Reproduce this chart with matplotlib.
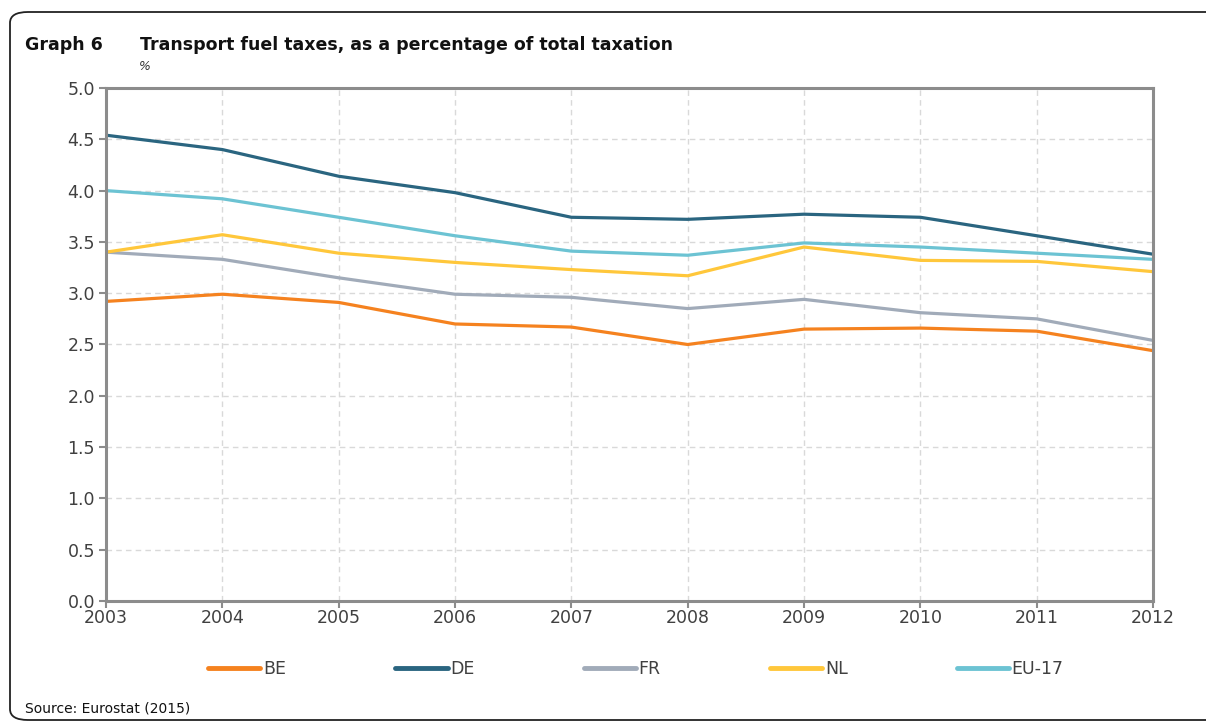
import matplotlib
matplotlib.use("Agg")
import matplotlib.pyplot as plt
from matplotlib.patches import FancyBboxPatch

years = [2003, 2004, 2005, 2006, 2007, 2008, 2009, 2010, 2011, 2012]
BE = [2.92, 2.99, 2.91, 2.70, 2.67, 2.50, 2.65, 2.66, 2.63, 2.44]
DE = [4.54, 4.40, 4.14, 3.98, 3.74, 3.72, 3.77, 3.74, 3.56, 3.38]
FR = [3.40, 3.33, 3.15, 2.99, 2.96, 2.85, 2.94, 2.81, 2.75, 2.54]
NL = [3.40, 3.57, 3.39, 3.30, 3.23, 3.17, 3.45, 3.32, 3.31, 3.21]
EU17 = [4.00, 3.92, 3.74, 3.56, 3.41, 3.37, 3.49, 3.45, 3.39, 3.33]
series_names = ["BE", "DE", "FR", "NL", "EU-17"]
series_values = [BE, DE, FR, NL, EU17]
colors = ["#F5821F", "#2A6580", "#A1ABB9", "#FFC73B", "#6CC3D3"]
yticks = [0.0, 0.5, 1.0, 1.5, 2.0, 2.5, 3.0, 3.5, 4.0, 4.5, 5.0]

plt.rcParams['font.family'] = ['DejaVu Sans']
W, H = 1206, 724
fig = plt.figure(figsize=(W / 100, H / 100), dpi=100)

# outer rounded frame
frame = FancyBboxPatch((10 / W, 4 / H), 1.2, (712 - 4) / H,
                       boxstyle="round,pad=0,rounding_size=0.015",
                       transform=fig.transFigure, fill=False,
                       edgecolor="#222222", linewidth=1.3, clip_on=False)
fig.add_artist(frame)

ax = fig.add_axes([106 / W, 1 - 601 / H, (1153 - 106) / W, (601 - 88) / H])
for name, vals, c in zip(series_names, series_values, colors):
    ax.plot(years, vals, color=c, linewidth=2.3, label=name, solid_capstyle='butt')

ax.set_xlim(2003, 2012)
ax.set_ylim(0, 5)
ax.set_xticks(years)
ax.set_yticks(yticks)
ax.set_yticklabels([f"{v:.1f}" for v in yticks])
ax.grid(True, color="#D9D9D9", linestyle=(0, (4, 3)), linewidth=1)
for s in ax.spines.values():
    s.set_color("#8C8C8C")
    s.set_linewidth(2.2)
ax.tick_params(axis='both', colors="#8C8C8C", labelcolor="#404040",
               labelsize=12.5, length=5, width=1.5)
ax.tick_params(axis='x', pad=1)
ax.tick_params(axis='y', pad=3)

fig.text(25 / W, 1 - 45 / H, "Graph 6", fontsize=12.5, fontweight='bold',
         va='center', ha='left', color="#111111")
fig.text(140 / W, 1 - 45 / H, "Transport fuel taxes, as a percentage of total taxation",
         fontsize=12.5, fontweight='bold', va='center', ha='left', color="#111111")
fig.text(139 / W, 1 - 66 / H, "%", fontsize=9, fontstyle='italic',
         va='center', ha='left', color="#333333")
fig.text(25 / W, 1 - 709 / H, "Source: Eurostat (2015)", fontsize=10,
         va='center', ha='left', color="#111111")

handles, labels = ax.get_legend_handles_labels()
leg = fig.legend(handles, labels, loc='center', bbox_to_anchor=(636 / W, 1 - 669 / H),
                 ncol=5, frameon=False, fontsize=12.5, handlelength=3.0,
                 handletextpad=0.15, columnspacing=6.3)
for l in leg.get_lines():
    l.set_linewidth(3.5)
    l.set_solid_capstyle('round')
for t in leg.get_texts():
    t.set_color("#404040")

fig.savefig("out.png", dpi=100)
